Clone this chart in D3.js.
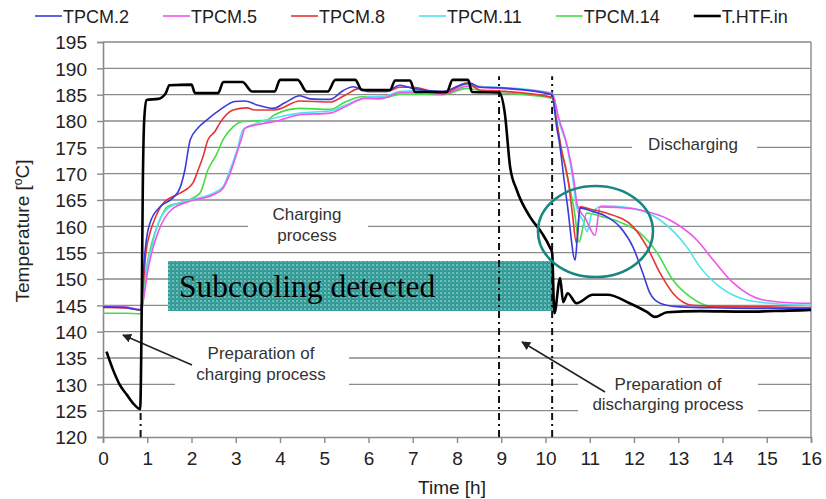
<!DOCTYPE html>
<html>
<head>
<meta charset="utf-8">
<script src="https://cdn.jsdelivr.net/npm/d3@7"></script>
<style>
  body { margin: 0; background: #fff; }
</style>
</head>
<body>
<div id="chart"></div>
<script>
// time [h] and temperature [C]
var seriesNames = ["TPCM.2", "TPCM.5", "TPCM.8", "TPCM.11", "TPCM.14", "T.HTF.in"];
var seriesColors = ["#3b3bdc", "#ee55ee", "#e83434", "#4fe3f0", "#45dc45", "#000000"];

var tpcm2T = [0,0.5,0.85,0.88,0.92,0.96,1.0,1.06,1.29,1.58,1.74,1.85,1.97,2.15,2.35,2.64,2.98,3.2,3.5,3.85,4.1,4.45,4.68,5.13,5.43,5.65,5.96,6.4,6.71,7.0,7.68,8.07,8.29,8.52,8.95,10.15,10.25,10.33,10.42,10.5,10.67,10.72,10.78,11.0,11.39,11.68,11.98,12.2,12.36,12.59,13.04,14,15,16];
var tpcm2V = [144.7,144.6,144.1,146,152,156,158.5,160.6,163.7,165.4,167.3,170.7,176.4,178.7,180.2,182.1,183.7,183.8,183,182.4,183.4,184.8,184.2,184.1,185.8,186.5,185.6,185.6,186.8,186.2,185.6,186.8,187.2,186.4,186.3,185.0,179,175,168.8,163.7,153.6,158,163.5,163,161.8,159.9,156,151.1,147.3,145.4,144.7,144.5,144.4,144.4];

var tpcm5T = [0,0.5,0.85,0.9,0.95,1.0,1.1,1.25,1.55,1.97,2.49,2.71,2.87,3.03,3.16,3.2,3.48,3.88,4.45,5.13,5.47,5.92,6.26,6.71,7.16,7.68,8.23,8.52,8.95,10.15,10.3,10.5,10.64,10.72,10.9,11.12,11.23,11.6,12.14,12.81,13.42,13.79,14.25,14.92,15.5,16];
var tpcm5V = [144.8,144.7,144.2,145.5,148,151,155,159,163.2,164.8,166,167.2,170,174,177.5,178.6,179.3,179.9,181.2,181.5,182.7,184.3,184.2,185.4,185.5,185.1,186.6,186.4,186.2,185.2,180.5,175,168.8,164,161.5,158.3,163.7,163.6,163.1,161.2,157.4,153.6,149.2,146,145.5,145.4];

var tpcm8T = [0,0.5,0.85,0.88,0.92,0.97,1.06,1.2,1.36,1.74,2.03,2.15,2.26,2.37,2.53,2.64,2.94,3.25,3.43,3.88,4.45,5.13,5.47,5.8,6.0,6.4,6.71,7.0,7.68,8.23,8.52,8.95,10.15,10.25,10.35,10.51,10.6,10.7,10.78,11.0,11.39,11.98,12.3,12.59,12.88,13.33,14,15,16];
var tpcm8V = [144.6,144.5,144.1,146,150,155,158.7,162,164.4,166.3,168.2,170.7,173.2,176.4,178,179.6,182.1,182.5,182.1,182.1,183.8,183.6,184.9,186.2,185.6,185.6,186.4,186.4,185.2,187.2,185.9,185.7,184.5,180,175,168.8,163,156.8,163.7,163.3,162.5,159.9,156,151.1,147.3,145,144.8,144.7,144.6];

var tpcm11T = [0,0.5,0.85,0.9,0.95,1.0,1.1,1.22,1.51,1.97,2.49,2.71,2.87,3.03,3.16,3.48,4.0,4.45,5.13,5.47,5.96,6.4,6.71,7.16,7.68,8.25,8.52,8.95,10.15,10.3,10.49,10.62,10.7,10.85,10.94,11.05,11.3,11.91,12.59,13.2,13.49,13.94,14.55,15.2,16];
var tpcm11V = [144.8,144.7,144.2,146,149,152.5,156,159.9,163.7,165,166.3,167.5,170.7,174.5,178.3,179.6,180.8,181.5,181.9,183,184.5,184.8,185.6,185.8,185.4,187,186.6,186.4,185.3,180,175,168.8,163.7,161,159,162.5,163.9,163.5,161.2,156,152.3,148.5,146,145.3,145];

var tpcm14T = [0,0.5,0.85,0.9,0.95,1.05,1.17,1.3,1.45,1.81,2.19,2.37,2.58,2.71,2.94,3.16,3.43,3.7,3.88,4.45,5.13,5.47,5.85,6.4,6.71,7.16,7.68,8.23,8.5,8.95,10.15,10.25,10.35,10.51,10.65,10.76,10.85,10.93,11.3,11.68,12.14,12.52,12.88,13.27,13.79,15,16];
var tpcm14V = [143.5,143.5,143.4,145,150,155,158.7,161.5,163.7,164.6,166.3,170.7,173.9,176.4,178.9,179.9,180,180.2,181.2,182.4,182.2,183.6,184.6,184.5,185.1,185.1,185,186.2,185.8,185.4,184.3,180,175,168.8,163,157,160,162.5,161.8,160.8,158.7,155,149.8,146.6,144.7,144.5,144.5];

var htfT = [0.08,0.23,0.38,0.54,0.68,0.84,0.87,0.9,0.93,0.98,1.25,1.42,1.5,2.0,2.08,2.6,2.72,3.15,3.37,3.88,4.0,4.4,4.6,5.08,5.25,5.7,5.85,6.49,6.6,6.94,7.05,7.77,7.9,8.25,8.34,8.95,9.08,9.2,9.35,9.65,9.92,10.1,10.15,10.2,10.33,10.4,10.5,10.7,11.07,11.4,11.9,12.3,12.47,12.75,13.5,14.5,15.5,16];
var htfV = [136.2,132.7,129.9,128,126.4,125.3,140,168,180,184,184.2,185.3,186.8,186.9,185.3,185.3,187.4,187.4,185.6,185.6,187.8,187.8,185.6,185.6,187.8,187.8,185.9,185.9,187.7,187.7,185.5,185.5,187.8,187.8,185.5,185.4,181.5,171.3,166.9,161.8,158.7,156,155,143.5,150.2,145.6,147.3,145.4,147,147,145.4,143.7,142.8,143.7,143.9,143.8,144,144.1];

var xTicks = d3.range(0, 17, 1);
var yTicks = d3.range(120, 196, 5);
var phaseMarks = [0.85, 8.95, 10.15];

var seriesT = [tpcm2T, tpcm5T, tpcm8T, tpcm11T, tpcm14T, htfT];
var seriesV = [tpcm2V, tpcm5V, tpcm8V, tpcm11V, tpcm14V, htfV];

var ancho = 826, alto = 499;
var izq = 103, der = 811, arriba = 42, abajo = 437;
var gridColor = "#8a8a8a";
var sans = "'Liberation Sans', Arial, sans-serif";

var svg = d3.select("#chart").append("svg")
    .attr("width", ancho)
    .attr("height", alto)
    .style("font-family", sans);

var x = d3.scaleLinear().domain([0, 16]).range([izq, der]);
var y = d3.scaleLinear().domain([120, 195]).range([abajo, arriba]);

// grid lines
svg.append("g").selectAll("line")
    .data(yTicks.slice(1))
    .enter().append("line")
    .attr("x1", izq).attr("x2", der)
    .attr("y1", function(d) { return y(d); })
    .attr("y2", function(d) { return y(d); })
    .attr("stroke", gridColor)
    .attr("stroke-width", 1.4);

svg.append("line")
    .attr("x1", der).attr("x2", der)
    .attr("y1", arriba).attr("y2", abajo)
    .attr("stroke", gridColor).attr("stroke-width", 1.4);

// white gaps in the grid behind the annotations
var gaps = [
    [248, 205, 120, 40],
    [175, 338, 174, 54],
    [578, 364, 180, 56],
    [632, 130, 125, 30]
];
svg.append("g").selectAll("rect")
    .data(gaps)
    .enter().append("rect")
    .attr("x", function(d) { return d[0]; })
    .attr("y", function(d) { return d[1]; })
    .attr("width", function(d) { return d[2]; })
    .attr("height", function(d) { return d[3]; })
    .attr("fill", "#fff");

// axes
var yAxis = svg.append("g")
    .attr("transform", "translate(" + izq + ",0)")
    .call(d3.axisLeft(y).tickValues(yTicks).tickSize(6).tickPadding(10));
var xAxis = svg.append("g")
    .attr("transform", "translate(0," + abajo + ")")
    .call(d3.axisBottom(x).tickValues(xTicks).tickSize(6).tickPadding(9));

[yAxis, xAxis].forEach(function(a) {
    a.select(".domain").attr("stroke", gridColor).attr("stroke-width", 1.6);
    a.selectAll(".tick line").attr("stroke", gridColor).attr("stroke-width", 1.4);
    a.selectAll(".tick text")
        .attr("font-family", sans)
        .attr("font-size", "19px")
        .attr("fill", "#222");
});
yAxis.selectAll(".tick text").attr("dy", "0.36em");

svg.append("text")
    .attr("x", 452).attr("y", 494)
    .attr("text-anchor", "middle")
    .attr("font-size", "19px").attr("fill", "#222")
    .text("Time [h]");

var yTitle = svg.append("text")
    .attr("transform", "translate(29,231) rotate(-90)")
    .attr("text-anchor", "middle")
    .attr("font-size", "19px").attr("fill", "#222");
yTitle.append("tspan").text("Temperature  [");
yTitle.append("tspan").attr("font-size", "12px").attr("dy", "-7").text("o");
yTitle.append("tspan").attr("dy", "7").text("C]");

// subcooling box
var defs = svg.append("defs");
var pat = defs.append("pattern")
    .attr("id", "dots")
    .attr("width", 4).attr("height", 4)
    .attr("patternUnits", "userSpaceOnUse");
pat.append("rect").attr("width", 4).attr("height", 4).attr("fill", "#2f9b97");
pat.append("rect").attr("width", 2).attr("height", 2).attr("fill", "#6dbdb9");
pat.append("rect").attr("x", 2).attr("y", 2).attr("width", 1).attr("height", 1).attr("fill", "#5db3af");

svg.append("rect")
    .attr("x", 168).attr("y", 261)
    .attr("width", 386).attr("height", 50)
    .attr("fill", "url(#dots)");

svg.append("text")
    .attr("x", 179).attr("y", 297)
    .style("font-family", "'Liberation Serif', 'Times New Roman', serif")
    .attr("font-size", "31.5px")
    .attr("fill", "#000")
    .text("Subcooling detected");

// annotation texts
var notes = [
    { x: 307, y: 220, t: "Charging" },
    { x: 307, y: 241, t: "process" },
    { x: 693, y: 150, t: "Discharging" },
    { x: 261, y: 359, t: "Preparation of" },
    { x: 261, y: 380, t: "charging process" },
    { x: 668, y: 390, t: "Preparation of" },
    { x: 668, y: 410, t: "discharging process" }
];
svg.append("g").selectAll("text")
    .data(notes)
    .enter().append("text")
    .attr("x", function(d) { return d.x; })
    .attr("y", function(d) { return d.y; })
    .attr("text-anchor", "middle")
    .attr("font-size", "17px")
    .attr("fill", "#333")
    .text(function(d) { return d.t; });

defs.append("marker")
    .attr("id", "arrow")
    .attr("viewBox", "0 0 10 10")
    .attr("refX", 9).attr("refY", 5)
    .attr("markerWidth", 9).attr("markerHeight", 9)
    .attr("markerUnits", "userSpaceOnUse")
    .attr("orient", "auto")
    .append("path").attr("d", "M0,0 L10,5 L0,10 z").attr("fill", "#222");

svg.append("line")
    .attr("x1", 192).attr("y1", 365).attr("x2", 123).attr("y2", 335)
    .attr("stroke", "#222").attr("stroke-width", 1.5)
    .attr("marker-end", "url(#arrow)");
svg.append("line")
    .attr("x1", 605).attr("y1", 392).attr("x2", 522).attr("y2", 342)
    .attr("stroke", "#222").attr("stroke-width", 1.5)
    .attr("marker-end", "url(#arrow)");

// dash-dot phase markers
svg.append("g").selectAll("line")
    .data(phaseMarks)
    .enter().append("line")
    .attr("x1", function(d) { return x(d); })
    .attr("x2", function(d) { return x(d); })
    .attr("y1", abajo)
    .attr("y2", function(d, i) { return i === 0 ? y(125) : y(188.5); })
    .attr("stroke", "#111")
    .attr("stroke-width", 2)
    .attr("stroke-dasharray", "7,4,2,4");

// data lines
var line = d3.line()
    .x(function(d) { return x(d[0]); })
    .y(function(d) { return y(d[1]); })
    .curve(d3.curveMonotoneX);

var order = [4, 3, 1, 2, 0, 5];
order.forEach(function(i) {
    var pts = seriesT[i].map(function(t, k) { return [t, seriesV[i][k]]; });
    svg.append("path")
        .datum(pts)
        .attr("d", line)
        .attr("fill", "none")
        .attr("stroke", seriesColors[i])
        .attr("stroke-width", i === 5 ? 2.6 : 1.6)
        .attr("stroke-linejoin", "round");
});

// ellipse around the subcooling dips
svg.append("ellipse")
    .attr("cx", 595.5).attr("cy", 231.5)
    .attr("rx", 57.5).attr("ry", 45.5)
    .attr("fill", "none")
    .attr("stroke", "#17877f")
    .attr("stroke-width", 2.6);

// legend
var lx = 35;
var legend = svg.append("g");
seriesNames.forEach(function(name, i) {
    legend.append("line")
        .attr("x1", lx).attr("x2", lx + 27)
        .attr("y1", 16).attr("y2", 16)
        .attr("stroke", seriesColors[i])
        .attr("stroke-width", i === 5 ? 2.6 : 1.6);
    var t = legend.append("text")
        .attr("x", lx + 28).attr("y", 23)
        .attr("font-size", "18px").attr("fill", "#222")
        .text(name);
    lx += 28 + t.node().getComputedTextLength() + 34;
});
</script>
</body>
</html>
